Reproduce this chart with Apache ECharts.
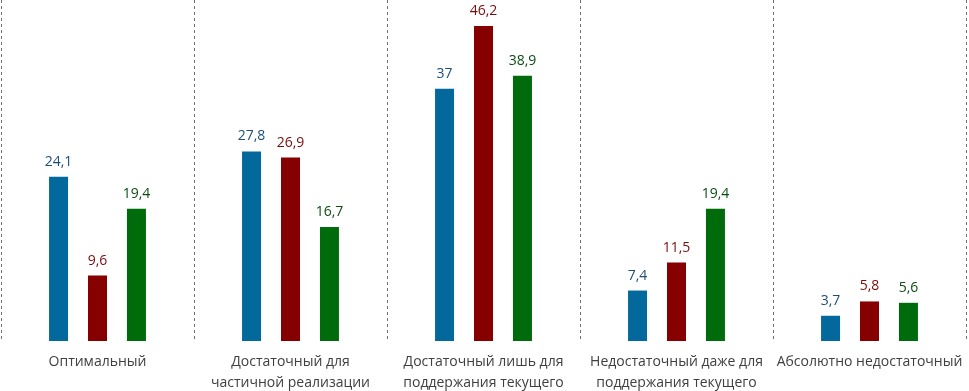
<!DOCTYPE html>
<html>
<head>
<meta charset="utf-8">
<script src="https://cdn.jsdelivr.net/npm/echarts@6/dist/echarts.min.js"></script>
<style>
  html, body { margin: 0; padding: 0; background: #fff; }
  #chart { width: 969px; height: 391px; }
</style>
</head>
<body>
<div id="chart"></div>
<script>
// категории и значения по трём группам
const categories = [
  'Оптимальный',
  'Достаточный для\nчастичной реализации',
  'Достаточный лишь для\nподдержания текущего',
  'Недостаточный даже для\nподдержания текущего',
  'Абсолютно недостаточный'
];
const blueValues = [24.1, 27.8, 37, 7.4, 3.7];
const redValues = [9.6, 26.9, 46.2, 11.5, 5.8];
const greenValues = [19.4, 16.7, 38.9, 19.4, 5.6];

const fmt = p => String(p.value).replace('.', ',');

function makeSeries(name, data, color, labelColor) {
  return {
    name: name,
    type: 'bar',
    data: data,
    barWidth: 19,
    barGap: '105%',
    itemStyle: { color: color },
    label: {
      show: true,
      position: 'top',
      distance: 8,
      formatter: fmt,
      color: labelColor,
      fontSize: 14,
      fontFamily: 'Open Sans'
    }
  };
}

const chart = echarts.init(document.getElementById('chart'));
chart.setOption({
  animation: false,
  grid: { left: 1, right: 3, top: 0, bottom: 50, containLabel: false, outerBoundsMode: 'none' },
  xAxis: {
    type: 'category',
    data: categories,
    axisLine: { show: false },
    axisTick: { show: false },
    axisLabel: {
      interval: 0,
      margin: 11,
      color: '#404040',
      fontSize: 14,
      lineHeight: 21,
      fontFamily: 'Open Sans'
    },
    splitLine: {
      show: true,
      lineStyle: { color: '#6f6f6f', type: [3, 3], width: 1 }
    }
  },
  yAxis: {
    type: 'value',
    min: 0,
    max: 50,
    show: false,
    splitLine: { show: false }
  },
  series: [
    makeSeries('s1', blueValues, '#03689c', '#1f4e79'),
    makeSeries('s2', redValues, '#860000', '#7b0c0c'),
    makeSeries('s3', greenValues, '#006b0a', '#0d4d12')
  ]
});
</script>
</body>
</html>
